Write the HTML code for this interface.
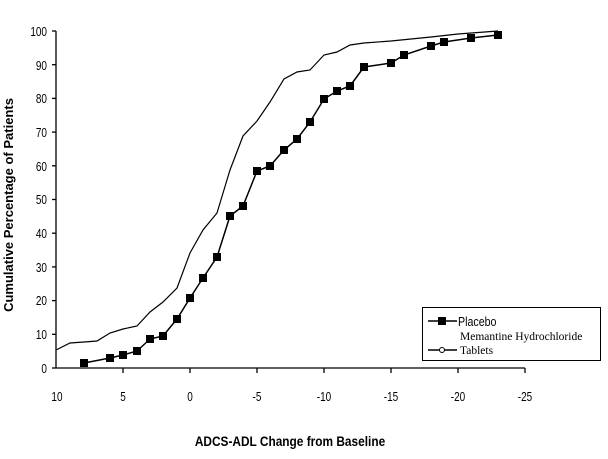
<!DOCTYPE html><html><head><style>body{margin:0;background:#fff}</style></head><body>
<svg width="608" height="454" xmlns="http://www.w3.org/2000/svg" font-family="Liberation Sans, sans-serif">
<rect width="608" height="454" fill="#fff"/>
<g stroke="#000" stroke-width="1.3">
<line x1="56" y1="31" x2="56" y2="368"/>
<line x1="56" y1="368" x2="525" y2="368"/>
<line x1="52" y1="368" x2="56" y2="368"/><line x1="52" y1="334.3" x2="56" y2="334.3"/><line x1="52" y1="300.6" x2="56" y2="300.6"/><line x1="52" y1="266.9" x2="56" y2="266.9"/><line x1="52" y1="233.2" x2="56" y2="233.2"/><line x1="52" y1="199.5" x2="56" y2="199.5"/><line x1="52" y1="165.8" x2="56" y2="165.8"/><line x1="52" y1="132.1" x2="56" y2="132.1"/><line x1="52" y1="98.4" x2="56" y2="98.4"/><line x1="52" y1="64.7" x2="56" y2="64.7"/><line x1="52" y1="31" x2="56" y2="31"/>
<line x1="123" y1="368" x2="123" y2="373"/><line x1="190" y1="368" x2="190" y2="373"/><line x1="257" y1="368" x2="257" y2="373"/><line x1="324" y1="368" x2="324" y2="373"/><line x1="391" y1="368" x2="391" y2="373"/><line x1="458" y1="368" x2="458" y2="373"/><line x1="525" y1="368" x2="525" y2="373"/>
</g>
<g font-size="12.5" text-anchor="end" transform="scale(0.8,1)">
<text x="58.75" y="373">0</text><text x="58.75" y="339">10</text><text x="58.75" y="305">20</text><text x="58.75" y="272">30</text><text x="58.75" y="238">40</text><text x="58.75" y="204">50</text><text x="58.75" y="171">60</text><text x="58.75" y="137">70</text><text x="58.75" y="103">80</text><text x="58.75" y="70">90</text><text x="58.75" y="36">100</text>
</g>
<g font-size="12.5" text-anchor="middle">
<text x="57" y="401" transform="translate(11.4,0) scale(0.8,1)">10</text>
<text x="123" y="401" transform="translate(24.6,0) scale(0.8,1)">5</text>
<text x="190" y="401" transform="translate(38,0) scale(0.8,1)">0</text>
<text x="257" y="401" transform="translate(51.4,0) scale(0.8,1)">-5</text>
<text x="324" y="401" transform="translate(64.8,0) scale(0.8,1)">-10</text>
<text x="391" y="401" transform="translate(78.2,0) scale(0.8,1)">-15</text>
<text x="458" y="401" transform="translate(91.6,0) scale(0.8,1)">-20</text>
<text x="525" y="401" transform="translate(105,0) scale(0.8,1)">-25</text>
</g>
<text x="0" y="0" font-size="13.5" font-weight="bold" text-anchor="middle" transform="translate(290,446) scale(0.88,1)">ADCS-ADL Change from Baseline</text>
<text transform="translate(13,205) rotate(-90)" font-size="13" font-weight="bold" text-anchor="middle">Cumulative Percentage of Patients</text>
<polyline fill="none" stroke="#000" stroke-width="1.2" points="56,350 70,343 84,342 97,341 110,333 123,329 137,326 150,312 163,302 177,288 190,253 203,230 217,213 230,170 243,136 257,121 270,102 284,79 297,72 310,70 324,55 337,52 350,45 364,43 391,41 431,37 458,34 498,31"/>
<polyline fill="none" stroke="#000" stroke-width="1.5" points="84,363 110,358 123,355 137,351 150,339 163,336 177,319 190,298 203,278 217,257 230,216 243,206 257,171 270,166 284,150 297,139 310,122 324,99 337,91 350,86 364,67 391,63 404,55 431,46 444,42 471,38 498,35"/>
<g fill="#000">
<rect x="80" y="359" width="8" height="8"/><rect x="106" y="354" width="8" height="8"/><rect x="119" y="351" width="8" height="8"/><rect x="133" y="347" width="8" height="8"/><rect x="146" y="335" width="8" height="8"/><rect x="159" y="332" width="8" height="8"/><rect x="173" y="315" width="8" height="8"/><rect x="186" y="294" width="8" height="8"/><rect x="199" y="274" width="8" height="8"/><rect x="213" y="253" width="8" height="8"/><rect x="226" y="212" width="8" height="8"/><rect x="239" y="202" width="8" height="8"/><rect x="253" y="167" width="8" height="8"/><rect x="266" y="162" width="8" height="8"/><rect x="280" y="146" width="8" height="8"/><rect x="293" y="135" width="8" height="8"/><rect x="306" y="118" width="8" height="8"/><rect x="320" y="95" width="8" height="8"/><rect x="333" y="87" width="8" height="8"/><rect x="346" y="82" width="8" height="8"/><rect x="360" y="63" width="8" height="8"/><rect x="387" y="59" width="8" height="8"/><rect x="400" y="51" width="8" height="8"/><rect x="427" y="42" width="8" height="8"/><rect x="440" y="38" width="8" height="8"/><rect x="467" y="34" width="8" height="8"/><rect x="494" y="31" width="8" height="8"/>
</g>
<rect x="422.5" y="307.5" width="178" height="53" fill="#fff" stroke="#000"/>
<line x1="428" y1="321" x2="457" y2="321" stroke="#000" stroke-width="1.5"/>
<rect x="438" y="317" width="8" height="8" fill="#000"/>
<line x1="428" y1="350" x2="457" y2="350" stroke="#000" stroke-width="1.5"/>
<circle cx="442" cy="350" r="2.5" fill="#fff" stroke="#000"/>
<text x="0" y="0" font-size="13" transform="translate(458,326) scale(0.82,1)">Placebo</text>
<text x="460" y="340" font-size="11.5" font-family="Liberation Serif, serif">Memantine Hydrochloride</text>
<text x="460" y="354" font-size="11.5" font-family="Liberation Serif, serif">Tablets</text>
</svg>
</body></html>
